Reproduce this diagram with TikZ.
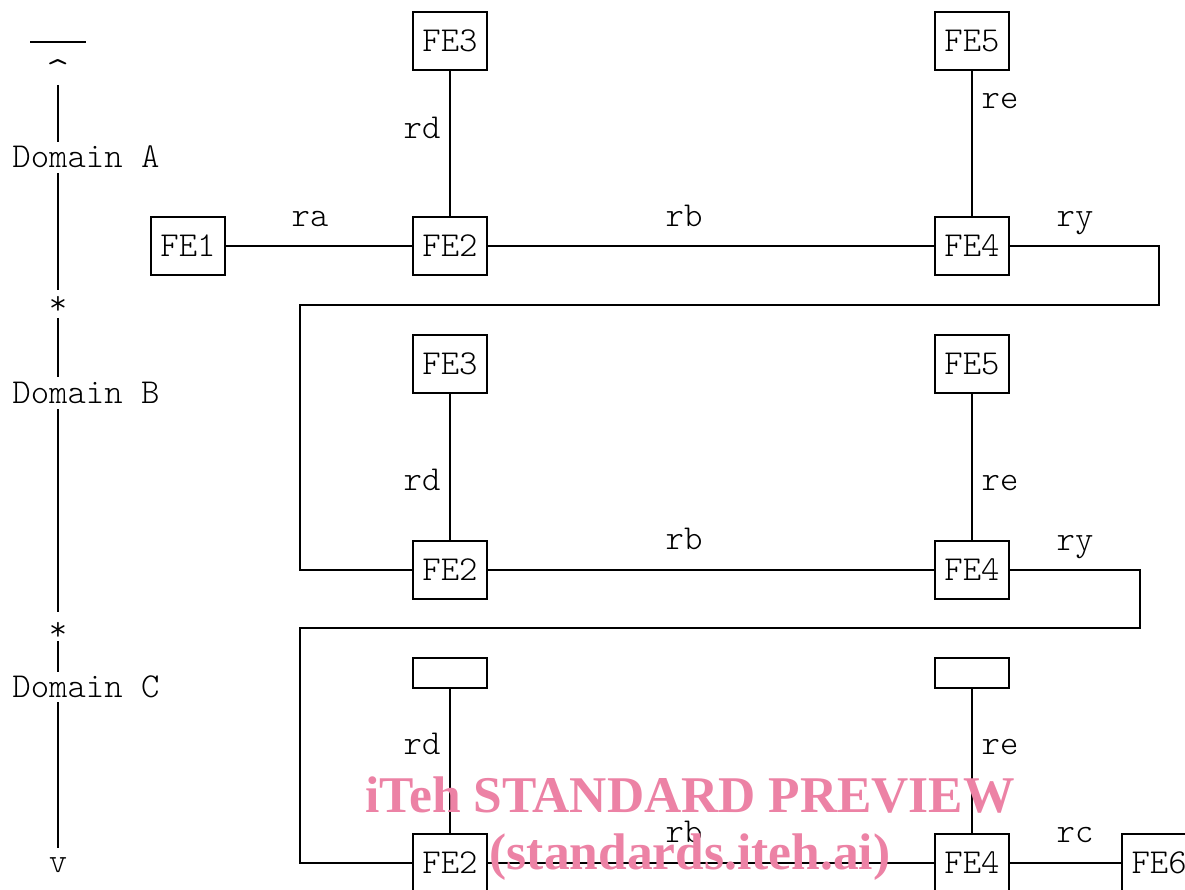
\documentclass[tikz,border=0pt]{standalone}
\usepackage{fontspec}
\setmonofont{Latin Modern Mono Light}
\newfontfamily\wmfont{Liberation Serif}
\definecolor{wmpink}{RGB}{236,130,165}
\begin{document}
\begin{tikzpicture}[x=1pt,y=-1pt,
  fe/.style={draw,line width=2.3pt,minimum width=74pt,minimum height=58pt,inner sep=0pt,font=\ttfamily\fontsize{35}{35}\selectfont},
  feflat/.style={draw,line width=2.3pt,minimum width=74pt,minimum height=30pt,inner sep=0pt},
  lbl/.style={font=\ttfamily\fontsize{35}{35}\selectfont,inner sep=0pt,anchor=base},
  conn/.style={line width=2.3pt},
  wm/.style={text=wmpink,font=\wmfont\bfseries\fontsize{51.5}{51.5}\selectfont,inner sep=0pt}]
\useasboundingbox (0,0) rectangle (1185,890);
\begin{scope}
\clip (0,0) rectangle (1185,890);
% Domain axis
\draw[conn] (30,42) -- (86,42);
\node[lbl,font=\ttfamily\fontsize{45}{45}\selectfont] (up) at (58,88) {\textasciicircum};
\node[lbl] (dA) at (86,168) {Domain A};
\node[lbl] (s1) at (58,315) {*};
\node[lbl] (dB) at (86,403) {Domain B};
\node[lbl] (s2) at (58,640) {*};
\node[lbl] (dC) at (86,697) {Domain C};
\node[lbl] (dn) at (58,872) {v};
\coordinate (a1) at (58,85); \coordinate (a2) at (58,142);
\coordinate (a3) at (58,173); \coordinate (a4) at (58,290);
\coordinate (a5) at (58,318); \coordinate (a6) at (58,377);
\coordinate (a7) at (58,409); \coordinate (a8) at (58,612);
\coordinate (a9) at (58,641); \coordinate (a10) at (58,672);
\coordinate (a11) at (58,702); \coordinate (a12) at (58,848);
\draw[conn] (a1)--(a2) (a3)--(a4) (a5)--(a6) (a7)--(a8) (a9)--(a10) (a11)--(a12);
% Domain A
\node[fe] (A3) at (450,41) {FE3};
\node[fe] (A5) at (972,41) {FE5};
\node[fe] (A1) at (188,246) {FE1};
\node[fe] (A2) at (450,246) {FE2};
\node[fe] (A4) at (972,246) {FE4};
\draw[conn] (A1) -- (A2);
\draw[conn] (A2) -- (A4);
\draw[conn] (A3) -- (A2);
\draw[conn] (A5) -- (A4);
\node[lbl] at (310,227) {ra};
\node[lbl] at (684,227) {rb};
\node[lbl] at (1075,227) {ry};
\node[lbl] at (422,139) {rd};
\node[lbl] at (1000,109) {re};
% Domain B
\node[fe] (B3) at (450,364) {FE3};
\node[fe] (B5) at (972,364) {FE5};
\node[fe] (B2) at (450,570) {FE2};
\node[fe] (B4) at (972,570) {FE4};
\draw[conn] (B2) -- (B4);
\draw[conn] (B3) -- (B2);
\draw[conn] (B5) -- (B4);
\draw[conn] (A4.east) -| (1159,305) -| (300,570) -- (B2.west);
\node[lbl] at (422,490) {rd};
\node[lbl] at (1000,490) {re};
\node[lbl] at (684,549) {rb};
\node[lbl] at (1075,550) {ry};
% Domain C
\node[feflat] (C3) at (450,673) {};
\node[feflat] (C5) at (972,673) {};
\node[fe] (C2) at (450,863) {FE2};
\node[fe] (C4) at (972,863) {FE4};
\node[fe,anchor=west] (C6) at (1121,863) {FE6};
\draw[conn] (C2) -- (C4);
\draw[conn] (C4) -- (C6);
\draw[conn] (C3) -- (C2);
\draw[conn] (C5) -- (C4);
\draw[conn] (B4.east) -| (1140,628) -| (300,863) -- (C2.west);
\node[lbl] at (422,754) {rd};
\node[lbl] at (1000,754) {re};
\node[lbl] at (684,842) {rb};
\node[lbl] at (1075,842) {rc};
% watermark
\node[wm] (w1) at (690,795) {iTeh STANDARD PREVIEW};
\node[wm] (w2) at (690,857) {(standards.iteh.ai)};
\end{scope}
\end{tikzpicture}
\end{document}
